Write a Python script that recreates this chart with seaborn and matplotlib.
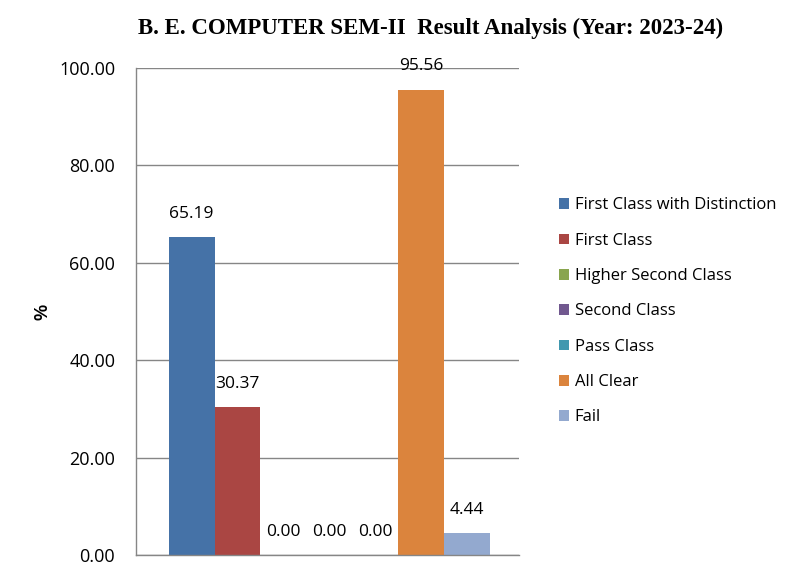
import matplotlib
matplotlib.use("Agg")
import matplotlib.pyplot as plt
import seaborn as sns
import pandas as pd

categories = ["First Class with Distinction", "First Class", "Higher Second Class",
              "Second Class", "Pass Class", "All Clear", "Fail"]
percentages = [65.19, 30.37, 0.00, 0.00, 0.00, 95.56, 4.44]
colors = ["#4572A7", "#AA4643", "#89A54E", "#71588F", "#4198AF", "#DB843D", "#93A9CF"]
y_ticks = [0, 20, 40, 60, 80, 100]

df = pd.DataFrame({"group": ["SEM-II"] * len(categories),
                   "category": categories,
                   "value": percentages})

sns.set_style("white")
plt.rcParams["font.family"] = ["Open Sans", "DejaVu Sans"]
plt.rcParams["text.color"] = "black"
plt.rcParams["ytick.labelcolor"] = "black"

fig = plt.figure(figsize=(7.99, 5.79), dpi=100)
ax = fig.add_axes([0.1702, 0.0415, 0.4794, 0.8411])

sns.barplot(data=df, x="group", y="value", hue="category", hue_order=categories,
            palette=colors, width=0.84, saturation=1, gap=0, linewidth=0,
            ax=ax, legend=True)

ax.set_xlim(-0.505, 0.495)
ax.set_ylim(0, 100)
ax.set_yticks(y_ticks)
ax.set_yticklabels([f"{v:.2f}" for v in y_ticks], fontsize=13)
ax.set_xticks([])
ax.set_xlabel("")
ax.set_ylabel("%", fontsize=13, fontweight="bold", family="Liberation Sans", color="black")
ax.yaxis.set_label_coords(-0.22, 0.5)

ax.grid(axis="y", color="#868686", linewidth=1)
ax.set_axisbelow(True)
for side in ["top", "right"]:
    ax.spines[side].set_visible(False)
for side in ["left", "bottom"]:
    ax.spines[side].set_color("#868686")
    ax.spines[side].set_linewidth(1)
ax.tick_params(axis="y", length=6, color="#868686", direction="out", pad=9)

for container in ax.containers:
    ax.bar_label(container, fmt="%.2f", padding=11, fontsize=12.5, color="black")

handles, labels = ax.get_legend_handles_labels()
ax.legend(handles, labels, loc="center left", bbox_to_anchor=(1.065, 0.5),
          frameon=False, fontsize=12, handlelength=0.6, handleheight=0.6,
          handletextpad=0.35, labelspacing=1.16)

fig.suptitle("B. E. COMPUTER SEM-II  Result Analysis (Year: 2023-24)",
             x=0.539, y=0.97, fontsize=16.5, fontweight="bold",
             family="Liberation Serif", color="black")

fig.savefig("out.png", dpi=100)
